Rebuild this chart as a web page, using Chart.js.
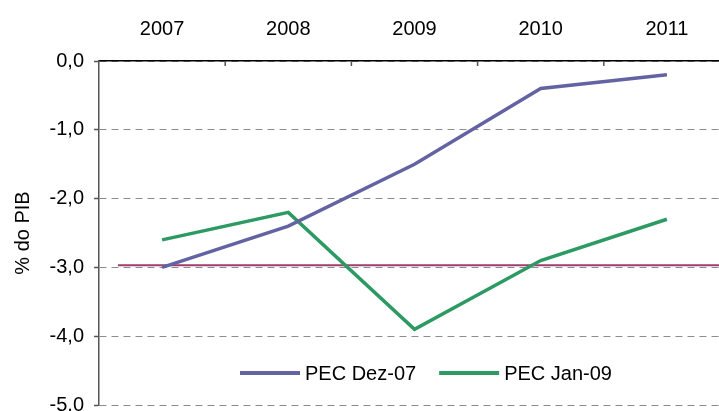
<!DOCTYPE html>
<html>
<head>
<meta charset="utf-8">
<script src="https://cdn.jsdelivr.net/npm/chart.js"></script>
<style>
  html, body { margin: 0; padding: 0; background: #fff; overflow: hidden; }
  #wrap { width: 719px; height: 411px; overflow: hidden; }
</style>
</head>
<body>
<div id="wrap"><canvas id="myChart" width="731" height="411"></canvas></div>
<script>
const years = ['2007', '2008', '2009', '2010', '2011'];
const pecDez07 = [-3.0, -2.4, -1.5, -0.4, -0.2];
const pecJan09 = [-2.6, -2.2, -3.9, -2.9, -2.3];
const limitX = [-0.35, 4.5];
const limitY = [-2.97, -2.97];
const yTicks = [0, -1, -2, -3, -4, -5];

const FONT = 'Liberation Sans, Arial, sans-serif';

// legend drawn inside the plot area, near the bottom
const innerLegend = {
  id: 'innerLegend',
  afterDatasetsDraw(chart) {
    const ctx = chart.ctx;
    const area = chart.chartArea;
    const y = area.bottom - 32;
    let x = area.left + 141;
    ctx.save();
    ctx.font = '20px ' + FONT;
    ctx.textBaseline = 'middle';
    chart.data.datasets.forEach(ds => {
      if (ds.hideInLegend) return;
      ctx.strokeStyle = ds.borderColor;
      ctx.lineWidth = 4;
      ctx.beginPath();
      ctx.moveTo(x, y);
      ctx.lineTo(x + 60, y);
      ctx.stroke();
      ctx.fillStyle = '#000';
      ctx.fillText(ds.label, x + 65, y + 1);
      x += 65 + ctx.measureText(ds.label).width + 23;
    });
    ctx.restore();
  }
};

// small tick marks hanging under the top axis at category boundaries
const topTicks = {
  id: 'topTicks',
  afterDraw(chart) {
    const sx = chart.scales.x;
    const ctx = chart.ctx;
    const top = chart.chartArea.top;
    ctx.save();
    ctx.strokeStyle = '#555';
    ctx.lineWidth = 1.5;
    for (let i = 0; i < years.length - 1; i++) {
      const px = (sx.getPixelForValue(i) + sx.getPixelForValue(i + 1)) / 2;
      ctx.beginPath();
      ctx.moveTo(px, top);
      ctx.lineTo(px, top + 5);
      ctx.stroke();
    }
    ctx.restore();
  }
};

new Chart(document.getElementById('myChart').getContext('2d'), {
  type: 'line',
  data: {
    labels: years,
    datasets: [
      {
        label: 'PEC Dez-07',
        data: pecDez07,
        borderColor: '#6363A3',
        borderWidth: 3.5,
        pointRadius: 0,
        tension: 0,
        xAxisID: 'x'
      },
      {
        label: 'PEC Jan-09',
        data: pecJan09,
        borderColor: '#2E9A63',
        borderWidth: 3.5,
        pointRadius: 0,
        tension: 0,
        xAxisID: 'x'
      },
      {
        label: 'Limite',
        hideInLegend: true,
        data: limitX.map((v, i) => ({ x: v, y: limitY[i] })),
        borderColor: '#9E3D6E',
        borderWidth: 2,
        pointRadius: 0,
        xAxisID: 'x2',
        order: 5
      }
    ]
  },
  options: {
    responsive: false,
    animation: false,
    layout: { padding: { left: 0, right: 1, top: 0, bottom: 6 } },
    plugins: {
      legend: { display: false },
      tooltip: { enabled: false }
    },
    scales: {
      x: {
        type: 'category',
        position: 'top',
        offset: true,
        grid: { display: false, drawTicks: false },
        border: { display: true, color: '#000', width: 1.5 },
        ticks: {
          color: '#000',
          font: { family: FONT, size: 20 },
          padding: 20,
          maxRotation: 0
        },
        afterFit(s) { s.height = 61; s.paddingLeft = 0; s.paddingRight = 0; }
      },
      x2: {
        type: 'linear',
        display: false,
        min: -0.5,
        max: 4.5
      },
      y: {
        min: -5,
        max: 0,
        afterBuildTicks(s) { s.ticks = yTicks.map(v => ({ value: v })); },
        grid: {
          color: '#8c8c8c',
          lineWidth: 1,
          drawTicks: true,
          tickLength: 5,
          tickColor: '#555',
          tickBorderDash: [],
          tickWidth: 1.5
        },
        border: { display: true, color: '#555', width: 1.5, dash: [7, 5] },
        ticks: {
          color: '#000',
          font: { family: FONT, size: 20 },
          padding: 10,
          callback: v => v.toFixed(1).replace('.', ',')
        },
        title: {
          display: true,
          text: '% do PIB',
          color: '#000',
          font: { family: FONT, size: 20 },
          padding: { top: 11, bottom: 0 }
        },
        afterFit(s) { s.width = 99; s.paddingTop = 0; s.paddingBottom = 0; }
      }
    }
  },
  plugins: [innerLegend, topTicks]
});
</script>
</body>
</html>
